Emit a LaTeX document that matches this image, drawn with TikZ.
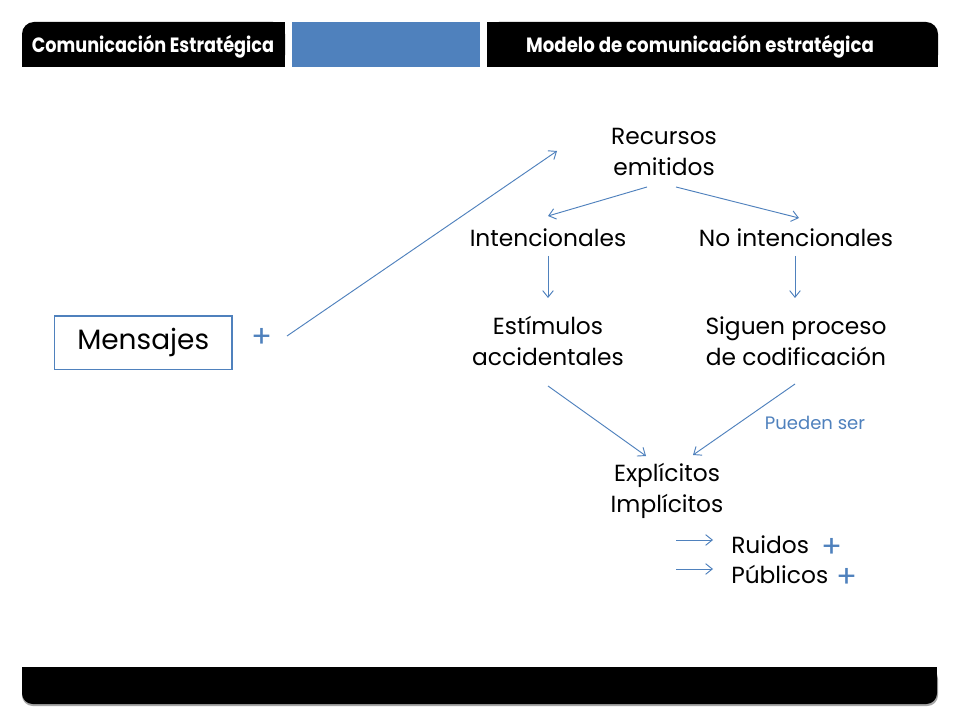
\documentclass[tikz,border=0pt]{standalone}
\usepackage{fontspec}
\setmainfont{Poppins}
\usetikzlibrary{arrows.meta}
\definecolor{accent}{HTML}{4F81BD}
\begin{document}
\begin{tikzpicture}[x=0.75pt,y=-0.75pt,
  arr/.style={draw=accent, line width=0.7pt, -{Straight Barb[length=5pt,width=8pt]}},
  lbl/.style={font=\fontsize{17.5}{23}\selectfont, align=center, text=black, inner sep=0pt},
  plus/.style={text=accent, font=\fontsize{23}{23}\selectfont, inner sep=0pt},
  hdr/.style={text=white, font=\bfseries\fontsize{15.5}{15}\selectfont, inner sep=0pt}]
\useasboundingbox (0,0) rectangle (960,720);
\fill[white] (0,0) rectangle (960,720);
% header left
\fill[black, rounded corners=9pt] (22,22) rectangle (285,67);
\fill[black] (60,22) rectangle (285,67);
\fill[black] (22,40) rectangle (285,67);
% header middle
\fill[accent] (292,22) rectangle (480,67);
% header right
\fill[black, rounded corners=9pt] (487,22) rectangle (938,67);
\fill[black] (487,22) rectangle (900,67);
\fill[black] (487,40) rectangle (938,67);
\node[hdr] (h1) at (153,47) {\scalebox{0.855}[1]{Comunicación Estratégica}};
\node[hdr] (h2) at (700,47) {\scalebox{0.88}[1]{Modelo de comunicación estratégica}};
% footer
\fill[gray!70, rounded corners=8pt] (22,668) rectangle (938,706);
\fill[black, rounded corners=8pt] (22,667) rectangle (937,704);
\fill[black] (22,667) rectangle (937,690);
% nodes
\node[draw=accent, line width=1pt, minimum width=133pt, minimum height=40pt, inner sep=0pt,
      font=\fontsize{21}{24}\selectfont] (men) at (143.2,342.6) {Mensajes};
\node[plus] (p1) at (262,338) {+};
\node[lbl] (rec) at (664,152) {Recursos\\emitidos};
\node[lbl] (int) at (548,238) {Intencionales};
\node[lbl] (noint) at (796,238) {No intencionales};
\node[lbl] (est) at (548,341) {Estímulos\\accidentales};
\node[lbl] (sig) at (796,341) {Siguen proceso\\de codificación};
\node[lbl] (exp) at (667,491) {Explícitos\\Implícitos};
\node[lbl, anchor=west] (rui) at (731,545) {Ruidos};
\node[lbl, anchor=west] (pub) at (731,574) {Públicos};
\node[plus] (p2) at (832,548) {+};
\node[plus] (p3) at (847,578) {+};
\node[text=accent, font=\fontsize{13.5}{15}\selectfont, inner sep=0pt] (pueden) at (815,423) {Pueden ser};
% connectors
\draw[arr] ([shift={(25,-2)}]p1.center) -- ([shift={(-107,-1)}]rec.center);
\draw[arr] ([shift={(-17,35)}]rec.center) -- ([shift={(0,-22)}]int.center);
\draw[arr] ([shift={(12,35)}]rec.center) -- ([shift={(3,-20)}]noint.center);
\draw[arr] ([shift={(0,18)}]int.center) -- ([shift={(0,-43)}]est.center);
\draw[arr] ([shift={(-1,18)}]noint.center) -- ([shift={(-1,-43)}]sig.center);
\draw[arr] ([shift={(0,45)}]est.center) -- ([shift={(-21,-35)}]exp.center);
\draw[arr] ([shift={(-1,43)}]sig.center) -- ([shift={(26,-36)}]exp.center);
\draw[arr] ([shift={(-55,-5)}]rui.west) -- ([shift={(-18,-5)}]rui.west);
\draw[arr] ([shift={(-55,-5)}]pub.west) -- ([shift={(-18,-5)}]pub.west);
\end{tikzpicture}
\end{document}
